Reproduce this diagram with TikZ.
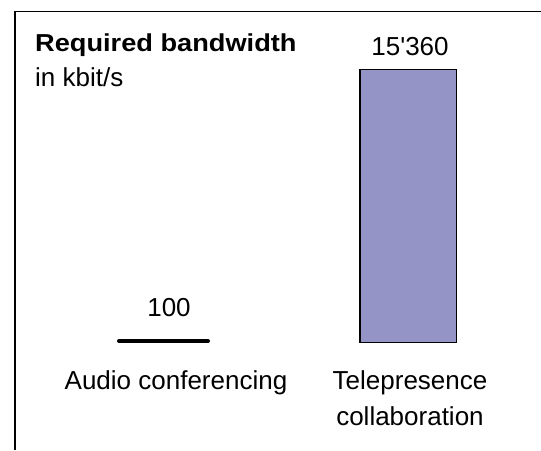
\documentclass[tikz,border=0pt]{standalone}
\usepackage{fontspec}
\setmainfont{Liberation Sans}
\definecolor{barfill}{RGB}{148,148,199}
\tikzset{
  lbl/.style={anchor=base, inner sep=0pt, font=\fontsize{26}{31}\selectfont},
  ttl/.style={anchor=base west, inner sep=0pt, font=\fontsize{24.5}{29}\selectfont\bfseries},
  sub/.style={anchor=base west, inner sep=0pt, font=\fontsize{26}{31}\selectfont},
  frame/.style={line width=1.8pt},
  barbox/.style={draw=black, line width=1.6pt, fill=barfill},
  smallbar/.style={line width=4pt, line cap=round}
}
\begin{document}
\begin{tikzpicture}[x=1pt,y=-1pt]
\useasboundingbox (0,0) rectangle (541,450);
% frame
\coordinate (fa) at (15,450);
\coordinate (fb) at (15,11.5);
\coordinate (fc) at (541,11.5);
\draw[frame] (fa) -- (fb) -- (fc);
% titles
\node[ttl] (title) at (35,51) {\scalebox{1.11}[1]{Required bandwidth}};
\node[sub] (unit) at (35,86) {in kbit/s};
% telepresence bar
\coordinate (tl) at (360,69.5);
\coordinate (br) at (456.5,342.5);
\draw[barbox] (tl) rectangle (br);
\node[lbl] (v2) at (410,55) {15\textquotesingle360};
% audio bar
\coordinate (al) at (119,341);
\coordinate (ar) at (208,341);
\draw[smallbar] (al) -- (ar);
\node[lbl] (v1) at (169,316) {100};
% category labels
\node[lbl] (c1) at (176,389) {Audio conferencing};
\node[lbl] (c2a) at (410,389) {Telepresence};
\node[lbl] (c2b) at (410,425) {collaboration};
\end{tikzpicture}
\end{document}
